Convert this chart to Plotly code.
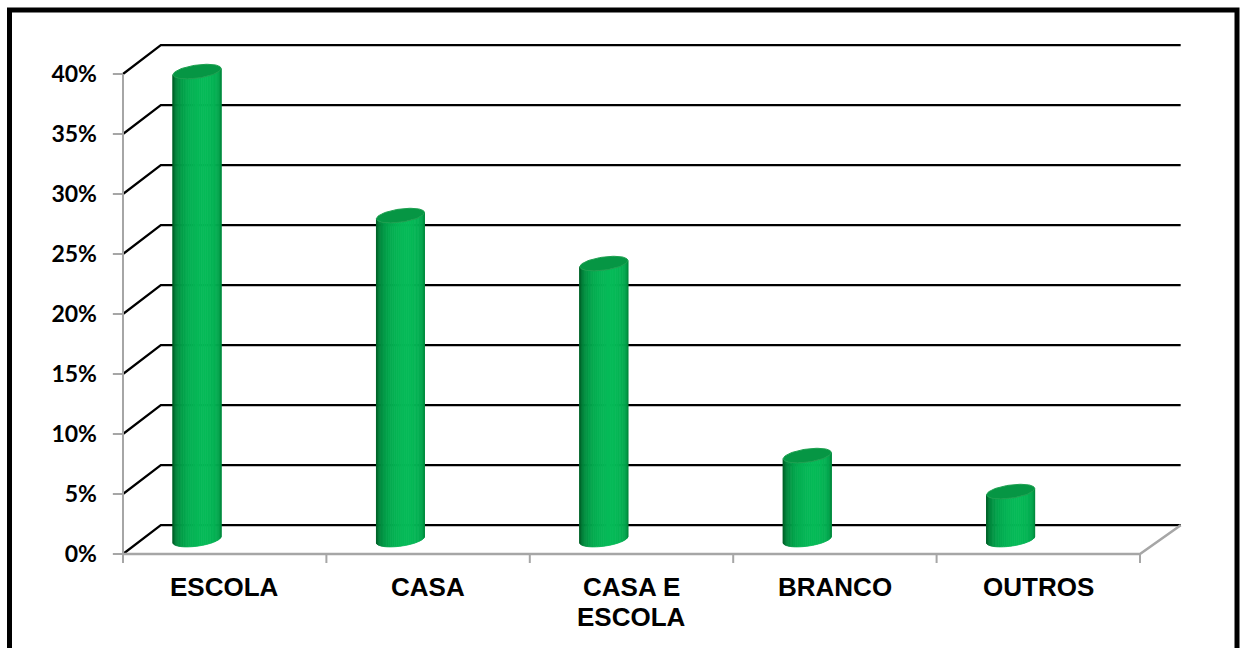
import numpy as np
import plotly.graph_objects as go

# ---- data -------------------------------------------------------------
categories = ["ESCOLA", "CASA", "CASA E\nESCOLA", "BRANCO", "OUTROS"]
values = [39, 27, 23, 7, 4]            # percent
tick_values = [0, 5, 10, 15, 20, 25, 30, 35, 40]
tick_labels = ["0%", "5%", "10%", "15%", "20%", "25%", "30%", "35%", "40%"]

# ---- geometry (data units: x = category slots, y = percent) ------------
W, H = 1242, 648
OX, OY = 123, 554          # pixel position of the front-left floor corner
SX, SY = 203.4, 12.0       # pixels per category slot / per percentage point

DEPTH_XL = 0.186           # back-wall shift on the left (category units)
DEPTH_XR = 0.20            # back-wall shift on the right
DEPTH_Y = 2.4              # back-wall rise (percent units)

CYL_SHIFT = -0.136         # cylinder centre relative to the slot centre
CYL_R = 0.118              # cylinder radius (category units)
ELL_B = 0.55               # half height of the end ellipses (percent units)
ELL_TILT = 0.26            # slant of the end ellipses (percent units)
N_STRIPS = 36
LABEL_DROP = 0.22          # tick labels sit slightly below their tick

n = len(categories)
ymax = max(tick_values)

fig = go.Figure()

# ---- back wall gridlines with the side-wall diagonals -----------------
gx, gy = [], []
for v in tick_values:
    gx += [0, DEPTH_XL, n + DEPTH_XR, None]
    gy += [v, v + DEPTH_Y, v + DEPTH_Y, None]
fig.add_trace(go.Scatter(x=gx, y=gy, mode="lines",
                         line=dict(color="#000000", width=2.2),
                         hoverinfo="skip", showlegend=False))

# ---- floor outline, vertical axis and tick marks ----------------------
fig.add_trace(go.Scatter(x=[0, n, n + DEPTH_XR], y=[0, 0, DEPTH_Y], mode="lines",
                         line=dict(color="#a6a6a6", width=2.6),
                         hoverinfo="skip", showlegend=False))
ax_x = [0, 0, None]
ax_y = [0, ymax, None]
for v in tick_values:
    ax_x += [-0.05, 0, None]
    ax_y += [v, v, None]
for i in range(n + 1):
    ax_x += [i, i, None]
    ax_y += [0, -0.75, None]
fig.add_trace(go.Scatter(x=ax_x, y=ax_y, mode="lines",
                         line=dict(color="#a6a6a6", width=2),
                         hoverinfo="skip", showlegend=False))

# ---- cylinders ----------------------------------------------------------
dark = np.array([0, 100, 42])
light = np.array([6, 186, 88])


def shade(phi):
    f = max(0.0, np.cos(phi - 0.3)) ** 0.7
    c = dark + (light - dark) * f
    return "rgb(%d,%d,%d)" % tuple(c.round().astype(int))


t_edges = np.linspace(np.pi, 2 * np.pi, N_STRIPS + 1)
strip_x = [[] for _ in range(N_STRIPS)]
strip_y = [[] for _ in range(N_STRIPS)]
top_x, top_y = [], []
base_level = DEPTH_Y / 2

for i, val in enumerate(values):
    cx = i + 0.5 + CYL_SHIFT
    yb = base_level
    yt = val + base_level
    for k in range(N_STRIPS):
        ts = np.linspace(t_edges[k], t_edges[k + 1], 6)
        xs = cx + CYL_R * np.cos(ts)
        off = ELL_B * np.sin(ts) + ELL_TILT * np.cos(ts)
        px = list(xs) + list(xs[::-1]) + [xs[0], None]
        py = list(yt + off) + list((yb + off)[::-1]) + [yt + off[0], None]
        strip_x[k] += px
        strip_y[k] += py
    ts = np.linspace(0, 2 * np.pi, 80)
    top_x += list(cx + CYL_R * np.cos(ts)) + [None]
    top_y += list(yt + ELL_B * np.sin(ts) + ELL_TILT * np.cos(ts)) + [None]

for k in range(N_STRIPS):
    phi = 0.5 * (t_edges[k] + t_edges[k + 1]) - 1.5 * np.pi
    col = shade(phi)
    fig.add_trace(go.Scatter(x=strip_x[k], y=strip_y[k], mode="lines",
                             fill="toself", fillcolor=col,
                             line=dict(color=col, width=0.8),
                             hoverinfo="skip", showlegend=False))

fig.add_trace(go.Scatter(x=top_x, y=top_y, mode="lines", fill="toself",
                         fillcolor="rgb(6,150,68)",
                         line=dict(color="rgb(30,160,80)", width=1),
                         hoverinfo="skip", showlegend=False))

# ---- tick labels --------------------------------------------------------
fig.add_trace(go.Scatter(x=[-0.128] * len(tick_values),
                         y=[v - LABEL_DROP for v in tick_values],
                         mode="text", text=tick_labels,
                         textposition="middle left",
                         textfont=dict(family="Lato", size=23,
                                       color="#000000", weight="bold"),
                         hoverinfo="skip", showlegend=False))

# ---- category labels (one annotation per text line) --------------------
LINE_GAP = 2.5
for i, cat in enumerate(categories):
    for j, line in enumerate(cat.split("\n")):
        fig.add_annotation(x=i + 0.5, y=-2.75 - j * LINE_GAP, text=line,
                           showarrow=False, xanchor="center", yanchor="middle",
                           font=dict(family="Liberation Sans", size=26,
                                     color="#000000", weight="bold"))

# ---- frame --------------------------------------------------------------
fig.add_shape(type="rect", xref="paper", yref="paper",
              x0=9.5 / W, x1=1237 / W, y0=-0.2, y1=1 - 10 / H,
              line=dict(color="#000000", width=5), fillcolor="rgba(0,0,0,0)")

fig.update_layout(
    width=W, height=H,
    margin=dict(l=0, r=0, t=0, b=0),
    paper_bgcolor="#ffffff", plot_bgcolor="#ffffff",
    xaxis=dict(range=[-OX / SX, (W - OX) / SX], visible=False, fixedrange=True),
    yaxis=dict(range=[(OY - H) / SY, OY / SY], visible=False, fixedrange=True),
    showlegend=False,
)

fig.write_html("out.html")
